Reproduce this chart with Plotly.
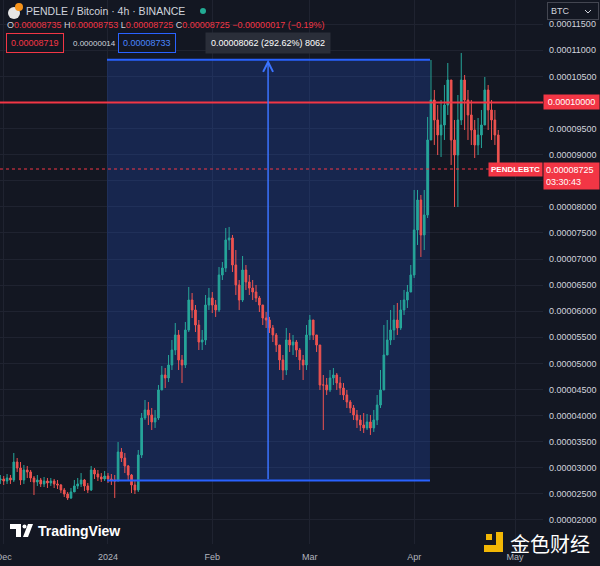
import numpy as np
import pandas as pd
import plotly.graph_objects as go

# ---------------- data (daily candles, in satoshi = 1e-8 BTC) ----------------
START_DATE = "2023-11-30"
FIRST_OPEN_SATS = 2766
CLOSE_SATS = [
    2786, 2747, 2805, 2766, 3111, 2996, 2766, 2958, 2920, 2805,
    2728, 2766, 2690, 2747, 2709, 2747, 2690, 2671, 2575, 2498,
    2422, 2537, 2652, 2690, 2766, 2652, 2575, 2958, 2881, 2824,
    2786, 2843, 2786, 2766, 2747, 3303, 3188, 3035, 2862, 2671,
    2575, 3245, 3954, 4108, 4012, 3878, 3954, 4491, 4778, 4721,
    4970, 5257, 5545, 5066, 4970, 5640, 6215, 6024, 5736, 5410,
    5449, 6119, 6254, 6119, 6024, 6694, 6828, 7365, 7403, 6886,
    6503, 6215, 6790, 6560, 6445, 6368, 6254, 6119, 5870, 5832,
    5679, 5545, 5353, 5066, 4874, 5449, 5353, 5410, 5257, 5066,
    4970, 5545, 5832, 5545, 5353, 4587, 4587, 4491, 4721, 4778,
    4625, 4529, 4395, 4261, 4146, 4012, 3916, 3820, 3763, 3878,
    3763, 3916, 4203, 4491, 5161, 5449, 5640, 5832, 5679, 6024,
    6215, 6368, 6694, 7556, 8131, 7461, 7844, 9281, 10047, 9664,
    9377, 9568, 9951, 10430, 9281, 8993, 9664, 10430, 10047, 9760,
    9472, 9185, 9377, 9568, 10239, 9856, 9664, 9377, 8725,
]
HIGH_SATS = [
    2862, 2843, 2881, 2862, 3284, 3188, 3111, 3054, 3035, 2958,
    2843, 2862, 2805, 2824, 2805, 2805, 2786, 2766, 2690, 2613,
    2537, 2613, 2766, 2805, 2900, 2786, 2709, 3035, 2996, 2958,
    2900, 2939, 2900, 2881, 2862, 3494, 3379, 3284, 3054, 2881,
    2766, 3341, 4050, 4299, 4261, 4146, 4108, 4587, 4951, 4912,
    5161, 5449, 5774, 5640, 5161, 5794, 6464, 6349, 6119, 5832,
    5640, 6311, 6445, 6368, 6215, 6847, 6943, 7595, 7614, 7461,
    7173, 6598, 7058, 6886, 6694, 6598, 6503, 6292, 6119, 5985,
    5890, 5736, 5583, 5353, 5161, 5679, 5583, 5545, 5449, 5295,
    5161, 5736, 5928, 5736, 5545, 5353, 4778, 4721, 4874, 4912,
    4817, 4740, 4625, 4491, 4299, 4203, 4108, 4012, 4050, 4031,
    4012, 4108, 4395, 4874, 5736, 5832, 6024, 6119, 6158, 6215,
    6407, 6503, 6886, 8323, 8323, 8227, 8323, 9722, 10814, 10239,
    9951, 10047, 10335, 10756, 10047, 9664, 10143, 10948, 10526, 10239,
    10047, 9664, 9702, 9856, 10488, 10335, 10047, 9856, 9472,
]
LOW_SATS = [
    2690, 2671, 2690, 2690, 2728, 2920, 2671, 2690, 2805, 2728,
    2479, 2652, 2632, 2632, 2613, 2652, 2613, 2594, 2517, 2441,
    2383, 2403, 2537, 2594, 2632, 2556, 2517, 2556, 2786, 2747,
    2728, 2747, 2709, 2671, 2422, 2766, 3111, 2900, 2766, 2517,
    2498, 2537, 3188, 3916, 3820, 3724, 3763, 3916, 4587, 4529,
    4644, 4874, 5161, 4874, 4625, 4912, 5602, 5870, 5602, 5257,
    5257, 5353, 6024, 5966, 5890, 5985, 6598, 6752, 7173, 6752,
    6311, 6024, 6177, 6407, 6311, 6215, 6177, 5985, 5736, 5679,
    5583, 5410, 5219, 4874, 4682, 4778, 5219, 5161, 5123, 4874,
    4682, 4874, 5449, 5449, 5219, 4491, 3724, 4395, 4452, 4587,
    4491, 4395, 4299, 4146, 4050, 3916, 3763, 3705, 3667, 3724,
    3629, 3686, 3820, 4146, 4682, 5257, 5353, 5449, 5545, 5640,
    5928, 6062, 6407, 6637, 7269, 7039, 7173, 7786, 9281, 9185,
    8993, 8955, 9281, 9760, 8802, 7997, 7997, 9568, 9472, 9281,
    9185, 8936, 8993, 9127, 9664, 9472, 9281, 9185, 8610,
]
SAT = 1e-8

# axis ticks
X_TICK_DATES = ["2023-12-01", "2024-01-01", "2024-02-01", "2024-03-01", "2024-04-01", "2024-05-01"]
X_TICK_TEXT = ["Dec", "2024", "Feb", "Mar", "Apr", "May"]
Y_TICKS = [0.000020, 0.000025, 0.000030, 0.000035, 0.000040, 0.000045, 0.000050,
           0.000055, 0.000060, 0.000065, 0.000070, 0.000075, 0.000080, 0.000085,
           0.000090, 0.000095, 0.000100, 0.000105, 0.000110, 0.000115]
Y_HIDDEN = [0.000085, 0.000100]

# drawings / labels
LEVEL = 0.00010000
LAST_PRICE = 0.00008725
RANGE_START = "2023-12-31 17:00"
RANGE_END = "2024-04-05 17:00"
RANGE_MID = "2024-02-17 14:00"
RANGE_LOW = 0.00002755
RANGE_HIGH = 0.00010817
RANGE_TEXT = "0.00008062 (292.62%) 8062"
TITLE = "PENDLE / Bitcoin · 4h · BINANCE"
OHLC = [("O", "0.00008735"), ("H", "0.00008753"), ("L", "0.00008725"), ("C", "0.00008725")]
CHANGE = "−0.00000017 (−0.19%)"
SELL, SPREAD, BUY = "0.00008719", "0.00000014", "0.00008733"
COUNTDOWN = "03:30:43"

# ---------------- build ----------------
dates = pd.date_range(START_DATE, periods=len(CLOSE_SATS), freq="D")
close = np.array(CLOSE_SATS, float) * SAT
open_ = np.array([FIRST_OPEN_SATS] + CLOSE_SATS[:-1], float) * SAT
high = np.maximum.reduce([np.array(HIGH_SATS, float) * SAT, open_, close])
low = np.minimum.reduce([np.array(LOW_SATS, float) * SAT, open_, close])

W, H = 600, 566
ML, MR, MT, MB = 0, 57, 0, 22
PW, PH = W - ML - MR, H - MT - MB
BG = "#131722"
GRID = "#1f2330"
RED = "#f23645"
BLUE = "#2962ff"
TXT = "#d1d4dc"
FONT = "Liberation Sans, Arial, sans-serif"


def PX(x):
    return (x - ML) / PW


def PY(y):
    return 1 - (y - MT) / PH


fig = go.Figure()
fig.add_trace(go.Candlestick(
    x=dates, open=open_, high=high, low=low, close=close,
    increasing=dict(line=dict(color="#26a69a", width=1), fillcolor="#26a69a"),
    decreasing=dict(line=dict(color="#ef5350", width=1), fillcolor="#ef5350"),
    whiskerwidth=0, hoverinfo="skip", showlegend=False,
))

ytext = ["" if any(abs(v - h) < 1e-12 for h in Y_HIDDEN) else f"{v:.8f}" for v in Y_TICKS]

shapes = [
    # price range box
    dict(type="rect", xref="x", yref="y", x0=RANGE_START, x1=RANGE_END, y0=RANGE_LOW, y1=RANGE_HIGH,
         fillcolor="rgba(41,98,255,0.20)", line=dict(width=0), layer="between"),
    dict(type="line", xref="x", yref="y", x0=RANGE_START, x1=RANGE_END, y0=RANGE_HIGH, y1=RANGE_HIGH,
         line=dict(color=BLUE, width=2), layer="above"),
    dict(type="line", xref="x", yref="y", x0=RANGE_START, x1=RANGE_END, y0=RANGE_LOW, y1=RANGE_LOW,
         line=dict(color=BLUE, width=2), layer="above"),
    # horizontal level
    dict(type="line", xref="paper", yref="y", x0=0, x1=1, y0=LEVEL, y1=LEVEL,
         line=dict(color=RED, width=2), layer="above"),
    # last price dotted line
    dict(type="line", xref="paper", yref="y", x0=0, x1=PX(492), y0=LAST_PRICE, y1=LAST_PRICE,
         line=dict(color=RED, width=1, dash="dot"), layer="above"),
    # symbol icon
    dict(type="circle", xref="paper", yref="paper", x0=PX(8), x1=PX(20), y0=PY(19), y1=PY(7),
         fillcolor="#e6e6e6", line=dict(width=0)),
    dict(type="circle", xref="paper", yref="paper", x0=PX(15), x1=PX(23), y0=PY(11), y1=PY(3),
         fillcolor="#f7931a", line=dict(width=0)),
    # green status dot
    dict(type="circle", xref="paper", yref="paper", x0=PX(200), x1=PX(206), y0=PY(14), y1=PY(8),
         fillcolor="#22ab94", line=dict(width=0)),
    # BTC dropdown chevron
    dict(type="path", xref="paper", yref="paper",
         path=f"M{PX(585)},{PY(10)} L{PX(588)},{PY(13)} L{PX(591)},{PY(10)}",
         line=dict(color=TXT, width=1)),
    # TradingView logo glyph
    dict(type="rect", xref="paper", yref="paper", x0=PX(10), x1=PX(21), y0=PY(529), y1=PY(524),
         fillcolor="#ffffff", line=dict(width=0)),
    dict(type="rect", xref="paper", yref="paper", x0=PX(16), x1=PX(21), y0=PY(537), y1=PY(524),
         fillcolor="#ffffff", line=dict(width=0)),
    dict(type="circle", xref="paper", yref="paper", x0=PX(22.5), x1=PX(26.5), y0=PY(528.5), y1=PY(524.5),
         fillcolor="#ffffff", line=dict(width=0)),
    dict(type="path", xref="paper", yref="paper",
         path=f"M{PX(23)},{PY(537)} L{PX(28)},{PY(524)} L{PX(33)},{PY(524)} L{PX(28)},{PY(537)} Z",
         fillcolor="#ffffff", line=dict(width=0)),
    # watermark logo
    dict(type="path", xref="paper", yref="paper",
         path=(f"M{PX(496)},{PY(532)} L{PX(503)},{PY(532)} L{PX(503)},{PY(552)} L{PX(484)},{PY(552)} "
               f"L{PX(484)},{PY(545)} L{PX(496)},{PY(545)} Z"),
         fillcolor="#f2b705", line=dict(width=0)),
    dict(type="rect", xref="paper", yref="paper", x0=PX(486), x1=PX(492), y0=PY(540), y1=PY(534),
         fillcolor="#f2b705", line=dict(width=0)),
]

ohlc_html = " ".join(f"<span style='color:{TXT}'>{k}</span><span style='color:{RED}'>{v}</span>" for k, v in OHLC)
ohlc_html += f" <span style='color:{RED}'>{CHANGE}</span>"

annotations = [
    dict(xref="paper", yref="paper", x=PX(24), y=PY(11), xanchor="left", yanchor="middle", showarrow=False,
         text=TITLE, font=dict(size=10.5, color=TXT, family=FONT)),
    dict(xref="paper", yref="paper", x=PX(5), y=PY(25), xanchor="left", yanchor="middle", showarrow=False,
         text=ohlc_html, font=dict(size=9, color=TXT, family=FONT)),
    dict(xref="paper", yref="paper", x=PX(6), y=PY(43), xanchor="left", yanchor="middle", showarrow=False,
         text=SELL, font=dict(size=9, color=RED, family=FONT), bordercolor=RED, borderwidth=1, borderpad=4,
         bgcolor=BG),
    dict(xref="paper", yref="paper", x=PX(71), y=PY(43), xanchor="left", yanchor="middle", showarrow=False,
         text=SPREAD, font=dict(size=8, color=TXT, family=FONT)),
    dict(xref="paper", yref="paper", x=PX(118), y=PY(43), xanchor="left", yanchor="middle", showarrow=False,
         text=BUY, font=dict(size=9, color="#4a86ff", family=FONT), bordercolor=BLUE, borderwidth=1, borderpad=4,
         bgcolor=BG),
    # range arrow
    dict(xref="x", yref="y", x=RANGE_MID, y=RANGE_HIGH, axref="x", ayref="y", ax=RANGE_MID, ay=RANGE_LOW,
         showarrow=True, arrowhead=5, arrowsize=1.3, arrowwidth=1.5, arrowcolor="#3b73ff", text=""),
    dict(xref="x", yref="paper", x=RANGE_MID, y=PY(43), xanchor="center", yanchor="middle", showarrow=False,
         text=RANGE_TEXT, font=dict(size=9, color="#ffffff", family=FONT), bgcolor="#2a2e39", borderpad=5),
    # right-side labels
    dict(xref="paper", yref="paper", x=PX(547), y=PY(11), xanchor="left", yanchor="middle", showarrow=False,
         text="BTC", width=44, align="left", font=dict(size=9, color=TXT, family=FONT),
         bordercolor="#434651", borderwidth=1, borderpad=3),
    dict(xref="paper", yref="y", x=PX(543), y=LEVEL, xanchor="left", yanchor="middle", showarrow=False,
         text=f"{LEVEL:.8f}", font=dict(size=9, color="#ffffff", family=FONT), bgcolor=RED, borderpad=2,
         width=51),
    dict(xref="paper", yref="y", x=PX(543), y=LAST_PRICE, xanchor="right", yanchor="middle", showarrow=False,
         text="<b>PENDLEBTC</b>", font=dict(size=8, color="#ffffff", family=FONT), bgcolor=RED, borderpad=2),
    dict(xref="paper", yref="y", x=PX(543), y=LAST_PRICE, xanchor="left", yanchor="top", yshift=7,
         showarrow=False, text=f"{LAST_PRICE:.8f}<br>{COUNTDOWN}", align="left",
         font=dict(size=9, color="#ffffff", family=FONT), bgcolor=RED, borderpad=2, width=51),
    # branding
    dict(xref="paper", yref="paper", x=PX(36), y=PY(531), xanchor="left", yanchor="middle", showarrow=False,
         text="<b>TradingView</b>", font=dict(size=14, color="#ffffff", family=FONT)),
    dict(xref="paper", yref="paper", x=PX(508), y=PY(543), xanchor="left", yanchor="middle", showarrow=False,
         text="金色财经", font=dict(size=20, color="#ffffff", family="Noto Sans CJK SC")),
]

fig.update_layout(
    width=W, height=H,
    margin=dict(l=ML, r=MR, t=MT, b=MB, pad=0, autoexpand=False),
    paper_bgcolor=BG, plot_bgcolor=BG,
    font=dict(family=FONT, color=TXT, size=9),
    showlegend=False,
    shapes=shapes,
    annotations=annotations,
    xaxis=dict(
        type="date", range=["2023-11-29 21:36", "2024-05-09 07:12"],
        rangeslider=dict(visible=False),
        tickvals=X_TICK_DATES, ticktext=X_TICK_TEXT,
        showgrid=True, gridcolor=GRID, gridwidth=1,
        zeroline=False, showline=False, ticks="",
        ticklabelstandoff=6, ticklabeloverflow="allow", automargin=False,
        tickfont=dict(size=9, color="#b2b5be"),
        fixedrange=True,
    ),
    yaxis=dict(
        range=[0.00001540, 0.00011963], side="right",
        tickvals=Y_TICKS, ticktext=ytext,
        showgrid=True, gridcolor=GRID, gridwidth=1,
        zeroline=False, showline=False, ticks="",
        ticklabelstandoff=5, automargin=False,
        tickfont=dict(size=9, color=TXT),
        fixedrange=True,
    ),
)

fig.write_html(
    "out.html",
    config={"displayModeBar": False},
    post_script="document.body.style.margin='0';document.body.style.background='#131722';",
)
